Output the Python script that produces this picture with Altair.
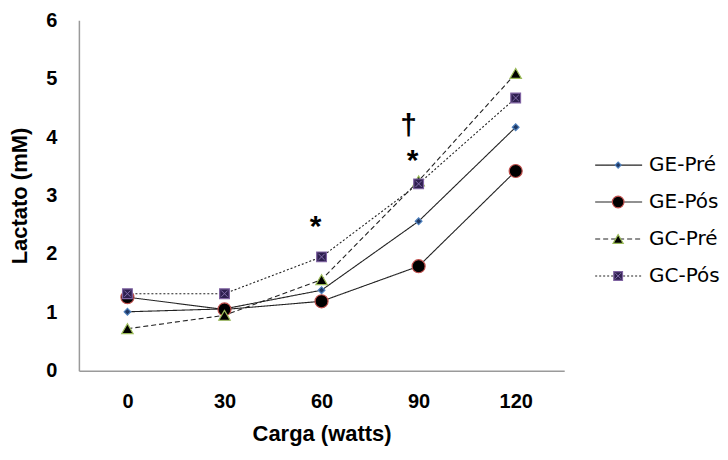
import altair as alt
import pandas as pd

# ---- data ----
loads = [0, 30, 60, 90, 120]
series = ["GE-Pré", "GE-Pós", "GC-Pré", "GC-Pós"]
ge_pre = [1.01, 1.06, 1.38, 2.56, 4.17]
ge_pos = [1.26, 1.05, 1.19, 1.79, 3.42]
gc_pre = [0.72, 0.95, 1.56, 3.25, 5.09]
gc_pos = [1.32, 1.32, 1.95, 3.20, 4.67]

ann_x = [60, 90, 90]
ann_y = [2.60, 3.72, 4.33]
ann_text = ["*", "*", "†"]

FONT = "Liberation Sans"
LEG_FONT = "DejaVu Sans"

values = {"GE-Pré": ge_pre, "GE-Pós": ge_pos, "GC-Pré": gc_pre, "GC-Pós": gc_pos}
rows = []
for s in series:
    for x, v in zip(loads, values[s]):
        rows.append({"carga": x, "lactato": v, "serie": s})
df = pd.DataFrame(rows)
ann = pd.DataFrame({"carga": ann_x, "lactato": ann_y, "txt": ann_text})

# ---- styles per series ----
style = {
    "GE-Pré": dict(shape="diamond", fill="#1f3864", stroke="#4f81bd", size=45, dash=[1, 0]),
    "GE-Pós": dict(shape="circle", fill="#000000", stroke="#c0504d", size=170, dash=[1, 0]),
    "GC-Pré": dict(shape="triangle-up", fill="#000000", stroke="#9bbb59", size=130, dash=[5, 3]),
    "GC-Pós": dict(shape="square", fill="#2e1f4f", stroke="#8064a2", size=95, dash=[2, 2]),
}
CROSS = "M-1,-1L1,1M-1,1L1,-1"

W, H = 486, 351
XS = alt.Scale(domain=[-15, 135], nice=False, zero=False)
YS = alt.Scale(domain=[0, 6], nice=False)

xenc = alt.X("carga:Q", scale=XS,
             axis=alt.Axis(values=loads, format="d", title="Carga (watts)", grid=False, ticks=False,
                           labelFontSize=20, labelFontWeight="bold", labelFont=FONT,
                           labelColor="black", labelPadding=21,
                           titleFontSize=22, titleFontWeight="bold", titleFont=FONT,
                           titleColor="black", titlePadding=12,
                           domainColor="#9a9a9a", domainWidth=1.5))
yenc = alt.Y("lactato:Q", scale=YS,
             axis=alt.Axis(values=[0, 1, 2, 3, 4, 5, 6], format="d", title="Lactato (mM)", grid=False,
                           ticks=False, labelFontSize=20, labelFontWeight="bold",
                           labelFont=FONT, labelColor="black", labelPadding=22,
                           titleFontSize=22, titleFontWeight="bold", titleFont=FONT,
                           titleColor="black", titlePadding=14,
                           domainColor="#9a9a9a", domainWidth=1.5))
xq = alt.X("carga:Q", scale=XS)
yq = alt.Y("lactato:Q", scale=YS)

layers = []
for k, s in enumerate(series):
    st = style[s]
    sub = alt.Chart(df[df.serie == s])
    enc = dict(x=xenc, y=yenc) if k == 0 else dict(x=xq, y=yq)
    layers.append(sub.mark_line(color="#222222", strokeWidth=1.1, strokeDash=st["dash"]).encode(**enc))
for s in series:
    st = style[s]
    sub = alt.Chart(df[df.serie == s])
    layers.append(sub.mark_point(shape=st["shape"], filled=True, fill=st["fill"], stroke=st["stroke"],
                                 size=st["size"], opacity=1, strokeWidth=1.2).encode(x=xq, y=yq))
layers.append(alt.Chart(df[df.serie == "GC-Pós"]).mark_point(
    shape=CROSS, size=40, stroke="#a58fd0", strokeWidth=1, filled=False).encode(x=xq, y=yq))

layers.append(alt.Chart(ann[ann.txt == "*"]).mark_text(
    font=FONT, fontSize=30, fontWeight="bold", color="black", baseline="middle", dx=-6, dy=8
).encode(x=xq, y=yq, text="txt:N"))
layers.append(alt.Chart(ann[ann.txt == "†"]).mark_text(
    font=FONT, fontSize=30, fontWeight="bold", color="black", baseline="middle", dx=-10, dy=8
).encode(x=xq, y=yq, text="txt:N"))

main = alt.layer(*layers).properties(width=W, height=H)

# ---- legend panel ----
LW = 150
LEG_TOP, LEG_STEP = 145, 37
LX0, LX1, LXM, LXT = 31, 78, 54, 85
d0 = -LEG_TOP / LEG_STEP
d1 = d0 + H / LEG_STEP
lxs = alt.Scale(domain=[0, LW], nice=False)
ly = alt.Y("i:Q", scale=alt.Scale(domain=[d0, d1], reverse=True, nice=False), axis=None)
lx = alt.X("lx:Q", scale=lxs, axis=None)

leg_layers = []
for i, s in enumerate(series):
    st = style[s]
    seg = pd.DataFrame({"i": [i, i], "lx": [LX0, LX1]})
    leg_layers.append(alt.Chart(seg).mark_line(color="#222222", strokeWidth=1.1, strokeDash=st["dash"]).encode(x=lx, y=ly))
    pt = pd.DataFrame({"i": [i], "lx": [LXM], "serie": [s]})
    leg_layers.append(alt.Chart(pt).mark_point(shape=st["shape"], filled=True, fill=st["fill"], stroke=st["stroke"],
                                               size=st["size"] * 0.8, opacity=1, strokeWidth=1.2).encode(x=lx, y=ly))
    if s == "GC-Pós":
        leg_layers.append(alt.Chart(pt).mark_point(shape=CROSS, size=32, stroke="#a58fd0", strokeWidth=1,
                                                   filled=False).encode(x=lx, y=ly))
    tx = pd.DataFrame({"i": [i], "lx": [LXT], "serie": [s]})
    leg_layers.append(alt.Chart(tx).mark_text(align="left", baseline="middle", font=LEG_FONT, fontSize=20,
                                              color="black").encode(x=lx, y=ly, text="serie:N"))
legend = alt.layer(*leg_layers).properties(width=LW, height=H)

chart = alt.hconcat(main, legend, spacing=0).properties(
    padding={"left": 0, "top": 2, "right": 0, "bottom": 5}, background="white"
).configure_view(stroke=None)

chart.save("out.html", embed_options={"renderer": "svg", "actions": False})
